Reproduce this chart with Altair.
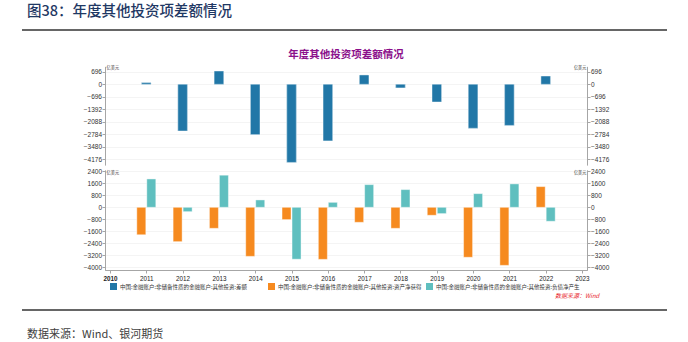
import altair as alt
import pandas as pd

years = [2011, 2012, 2013, 2014, 2015, 2016, 2017, 2018, 2019, 2020, 2021, 2022]
balance = [90, -2600, 740, -2800, -4350, -3150, 520, -200, -985, -2450, -2290, 460]
assets = [-1830, -2290, -1400, -3270, -820, -3470, -1000, -1400, -530, -3330, -3870, 1380]
liabilities = [1890, -290, 2140, 490, -3460, 330, 1510, 1180, -420, 910, 1560, -930]

series_names = [
    "中国:金融账户:非储备性质的金融账户:其他投资:差额",
    "中国:金融账户:非储备性质的金融账户:其他投资:资产净获得",
    "中国:金融账户:非储备性质的金融账户:其他投资:负债净产生",
]
colors = ["#2177A7", "#F68A1F", "#5FBFBF"]
top_ticks = [696, 0, -696, -1392, -2088, -2784, -3480, -4176]
bottom_ticks = [2400, 1600, 800, 0, -800, -1600, -2400, -3200, -4000]
x_ticks = list(range(2010, 2024))

header_text = "图38：年度其他投资项差额情况"
chart_title = "年度其他投资项差额情况"
unit_text = "亿美元"
footer_text = "数据来源：Wind、银河期货"
source_text = "数据来源：Wind"

df_bal = pd.DataFrame({"year": years, "value": balance, "series": series_names[0]})
df_ast = pd.DataFrame({"year": years, "value": assets, "series": series_names[1]})
df_lia = pd.DataFrame({"year": years, "value": liabilities, "series": series_names[2]})

FONT = "Liberation Sans, Noto Sans CJK SC"
CJK = "Noto Sans CJK SC"

color = alt.Color(
    "series:N",
    scale=alt.Scale(domain=series_names, range=colors),
    legend=alt.Legend(
        title=None, orient="none", legendX=5, legendY=283, direction="horizontal",
        columns=3, gridAlign="all", columnPadding=4, labelFontSize=5.5, labelFont=CJK,
        labelColor="#333333", labelLimit=400, symbolType="square", symbolSize=49,
        symbolStrokeWidth=0, labelOffset=3, padding=0,
    ),
)

x_enc = alt.X(
    "year:Q",
    title=None,
    scale=alt.Scale(domain=[2010, 2023], nice=False, zero=False),
    axis=alt.Axis(
        values=x_ticks, format="d", grid=False, tickSize=3, labelPadding=2,
        labelFontSize=6.3, labelFont=FONT, labelColor="#222222",
        labelFontWeight={"condition": {"test": "datum.value == 2010", "value": "bold"}, "value": "normal"},
        domainColor="#a6a6a6", tickColor="#a6a6a6", labelFlush=False, labelOverlap=False,
    ),
)

top_scale = alt.Scale(domain=[-4500, 1000], range=[165.1, 66.35], nice=False, zero=False)
bot_scale = alt.Scale(domain=[-4200, 2500], range=[270.3, 169.8], nice=False, zero=False)


def y_axis(orient, ticks, title_y):
    left = orient == "left"
    return alt.Axis(
        orient=orient, values=ticks, format="d", grid=left, gridColor="#f1f1f1", gridWidth=0.8,
        tickSize=3, labelPadding=0.5, labelFontSize=6.5, labelFont=FONT, labelColor="#333333",
        domainColor="#a6a6a6", tickColor="#a6a6a6", labelOverlap=False, labelFlush=False,
        title=unit_text, titleAngle=0, titleFontSize=4.2, titleFont=CJK, titleFontWeight="normal",
        titleColor="#333333", titleX=1 if left else -1, titleY=title_y,
        titleAlign="left" if left else "right", titleBaseline="bottom",
    )


bar_stroke = dict(stroke="white", strokeWidth=0.6, strokeOpacity=0.7)

top_left = alt.Chart(df_bal).mark_bar(width=9.5, **bar_stroke).encode(
    x=x_enc, y=alt.Y("value:Q", scale=top_scale, axis=y_axis("left", top_ticks, 69)), color=color
)
top_right = alt.Chart(df_bal).mark_bar(width=9.5, **bar_stroke).encode(
    x=x_enc, y=alt.Y("value:Q", scale=top_scale, axis=y_axis("right", top_ticks, 69)), color=color
)
bot_left = alt.Chart(df_ast).mark_bar(width=9, xOffset=-5, **bar_stroke).encode(
    x=x_enc, y=alt.Y("value:Q", scale=bot_scale, axis=y_axis("left", bottom_ticks, 174)), color=color
)
bot_right = alt.Chart(df_lia).mark_bar(width=9, xOffset=5, **bar_stroke).encode(
    x=x_enc, y=alt.Y("value:Q", scale=bot_scale, axis=y_axis("right", bottom_ticks, 174)), color=color
)

one = pd.DataFrame({"t": [0]})
OX, OY = 105, 0  # plot origin on the page

header = alt.Chart(one).mark_text(
    text=header_text, align="left", baseline="middle", fontSize=14.5, font=CJK,
    fontWeight=500, color="#1F3864"
).encode(x=alt.value(27 - OX), y=alt.value(12 - OY))
line_top = alt.Chart(one).mark_rule(color="#333333", strokeWidth=1.5).encode(
    x=alt.value(22 - OX), x2=alt.value(667 - OX), y=alt.value(30 - OY)
)
line_bot = alt.Chart(one).mark_rule(color="#333333", strokeWidth=1.5).encode(
    x=alt.value(22 - OX), x2=alt.value(667 - OX), y=alt.value(310 - OY)
)
footer = alt.Chart(one).mark_text(
    text=footer_text, align="left", baseline="middle", fontSize=11, font=CJK, color="#404040"
).encode(x=alt.value(27 - OX), y=alt.value(335 - OY))
ctitle = alt.Chart(one).mark_text(
    text=chart_title, align="center", baseline="middle", fontSize=10.5, font=CJK,
    fontWeight="bold", color="#8B108B"
).encode(x=alt.value(346 - OX), y=alt.value(54.5 - OY))
source = alt.Chart(one).mark_text(
    text=source_text, align="left", baseline="middle", fontSize=6, font=CJK,
    fontStyle="italic", color="#E8262C"
).encode(x=alt.value(555 - OX), y=alt.value(295.5 - OY))

chart = (
    alt.layer(top_left, top_right, bot_left, bot_right, header, line_top, line_bot, footer, ctitle, source)
    .resolve_scale(y="independent")
    .resolve_axis(y="independent")
    .properties(
        width=482, height=270,
        padding={"left": 105, "top": 0, "right": 101, "bottom": 72},
        autosize=alt.AutoSizeParams(type="none"),
        background="white",
    )
    .configure_view(stroke=None)
)

chart.save("out.html", embed_options={"renderer": "svg", "actions": False})
